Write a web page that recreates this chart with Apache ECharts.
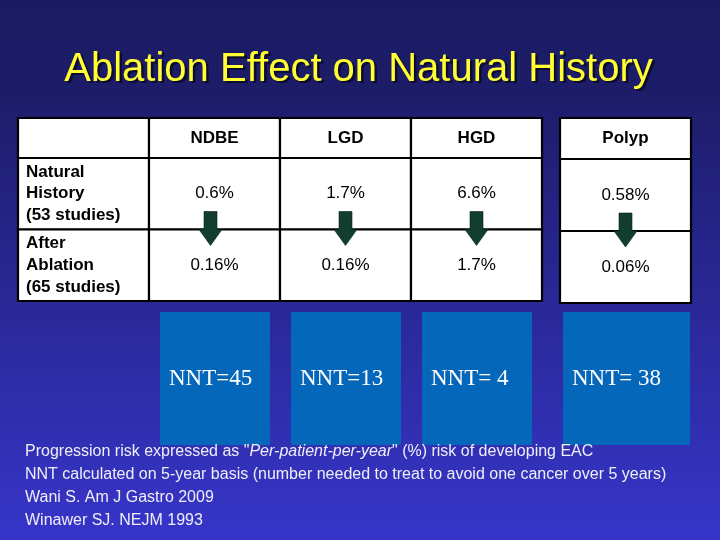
<!DOCTYPE html>
<html>
<head>
<meta charset="utf-8">
<title>Ablation Effect on Natural History</title>
<script src="https://cdn.jsdelivr.net/npm/echarts@6/dist/echarts.min.js"></script>
<style>
  html, body { margin: 0; padding: 0; }
  #main { width: 720px; height: 540px; }
</style>
</head>
<body>
<div id="main"></div>
<script>
// table content
const columns = ['', 'NDBE', 'LGD', 'HGD'];
const rowNames = ['Natural History', 'After Ablation'];
const rowLabels = ['Natural\nHistory\n(53 studies)', 'After\nAblation\n(65 studies)'];
const naturalHistory = ['0.6%', '1.7%', '6.6%'];
const afterAblation = ['0.16%', '0.16%', '1.7%'];
const polypColumn = ['Polyp'];
const polypRisk = ['0.58%', '0.06%'];
const nntMain = ['NNT=45', 'NNT=13', 'NNT= 4'];
const nntPolyp = ['NNT= 38'];
const titleText = 'Ablation Effect on Natural History';
const footnotes = [
  'Progression risk expressed as "{i|Per-patient-per-year}" (%) risk of developing EAC',
  'NNT calculated on 5-year basis (number needed to treat to avoid one cancer over 5 years)',
  'Wani S. Am J Gastro 2009',
  'Winawer SJ. NEJM 1993'
];

const SANS = '"Liberation Sans", Arial, sans-serif';
const SERIF = '"Liberation Serif", "Times New Roman", serif';

const myChart = echarts.init(document.getElementById('main'));

// white table cell with black border, text from getText(col, row)
function cellRenderer(getText) {
  return function (params, api) {
    const col = api.value(0);
    const row = api.value(1);
    const c = api.coord([col, row]);
    const s = api.size([1, 1]);
    const left = c[0] - s[0] / 2;
    const isLabel = params.seriesName === 'mainBody' && col === 0;
    const bold = isLabel || params.seriesName.indexOf('Head') >= 0;
    return {
      type: 'group',
      children: [
        {
          type: 'rect',
          shape: { x: left, y: c[1] - s[1] / 2, width: s[0], height: s[1] },
          style: { fill: '#ffffff', stroke: '#000000', lineWidth: 2.2 }
        },
        {
          type: 'text',
          x: isLabel ? left + 8 : c[0],
          y: c[1],
          style: {
            text: getText(col, row, params.seriesName),
            fill: '#000000',
            font: (bold ? 'bold ' : '') + '17px ' + SANS,
            lineHeight: 21.7,
            align: isLabel ? 'left' : 'center',
            verticalAlign: 'middle'
          }
        }
      ]
    };
  };
}

function headText(col, row, name) {
  return name === 'mainHead' ? columns[col] : polypColumn[col];
}

function bodyText(col, row, name) {
  if (name === 'polypBody') return polypRisk[row];
  if (col === 0) return rowLabels[row];
  return (row === 0 ? naturalHistory : afterAblation)[col - 1];
}

// down arrow sitting on the line between the two body rows
function arrowRenderer(params, api) {
  const col = api.value(0);
  const a = api.coord([col, 0]);
  const b = api.coord([col, 1]);
  const x = a[0] - (params.seriesName === 'mainArrows' && col === 1 ? 4 : 0);
  const y = (a[1] + b[1]) / 2 - 1;
  return {
    type: 'polygon',
    shape: {
      points: [
        [x - 6.5, y - 17], [x + 6.5, y - 17], [x + 6.5, y + 1],
        [x + 11.5, y + 1], [x, y + 17], [x - 11.5, y + 1], [x - 6.5, y + 1]
      ]
    },
    style: { fill: '#123e2f', stroke: '#08241a', lineWidth: 0.6 }
  };
}

// blue NNT box under a column
function nntRenderer(labels, insetL, insetR) {
  return function (params, api) {
    const col = api.value(0);
    const c = api.coord([col, 0]);
    const s = api.size([1, 1]);
    const left = c[0] - s[0] / 2 + insetL;
    return {
      type: 'group',
      children: [
        {
          type: 'rect',
          shape: { x: left, y: c[1] - s[1] / 2, width: s[0] - insetL - insetR, height: s[1] },
          style: { fill: '#0567ba' }
        },
        {
          type: 'text',
          x: left + 9,
          y: c[1],
          style: {
            text: labels[params.dataIndex],
            fill: '#ffffff',
            font: '23px ' + SERIF,
            align: 'left',
            verticalAlign: 'middle'
          }
        }
      ]
    };
  };
}

const mainBodyData = [];
rowNames.forEach(function (r, ri) {
  columns.forEach(function (c, ci) { mainBodyData.push([ci, ri]); });
});

const grids = [
  { left: 18, top: 118, width: 524, height: 40 },   // main header
  { left: 18, top: 158, width: 524, height: 143 },  // main body
  { left: 560, top: 118, width: 131, height: 41 },  // polyp header
  { left: 560, top: 159, width: 131, height: 144 }, // polyp body
  { left: 18, top: 312, width: 524, height: 133 },  // main NNT
  { left: 560, top: 312, width: 131, height: 133 }  // polyp NNT
];

const hidden = { show: false };
function xCat(data, gi) { return Object.assign({ type: 'category', data: data, gridIndex: gi }, hidden); }
function yCat(data, gi) { return Object.assign({ type: 'category', data: data, gridIndex: gi, inverse: true }, hidden); }

const footnoteGraphics = footnotes.map(function (t, i) {
  return {
    type: 'text',
    x: 25,
    y: 452 + i * 22.7,
    z: 100,
    style: {
      text: t,
      fill: '#eeeef8',
      font: '16px ' + SANS,
      verticalAlign: 'middle',
      rich: { i: { fontStyle: 'italic', fontSize: 16, fontFamily: SANS, fill: '#eeeef8' } }
    }
  };
});

const option = {
  backgroundColor: {
    type: 'linear', x: 0, y: 0, x2: 0, y2: 1,
    colorStops: [
      { offset: 0, color: '#1b1a62' },
      { offset: 0.17, color: '#1d1c69' },
      { offset: 1, color: '#3735c9' }
    ]
  },
  animation: false,
  grid: grids,
  xAxis: [
    xCat(columns, 0), xCat(columns, 1), xCat(polypColumn, 2),
    xCat(polypColumn, 3), xCat(columns, 4), xCat(polypColumn, 5)
  ],
  yAxis: [
    yCat(['head'], 0), yCat(rowNames, 1), yCat(['head'], 2),
    yCat(rowNames, 3), yCat(['NNT'], 4), yCat(['NNT'], 5)
  ],
  graphic: [
    {
      type: 'text', x: 361, y: 72,
      style: { text: titleText, fill: '#0c0c2e', font: '40px ' + SANS, align: 'center', verticalAlign: 'middle' }
    },
    {
      type: 'text', x: 358.5, y: 69.5,
      style: { text: titleText, fill: '#ffff33', font: '40px ' + SANS, align: 'center', verticalAlign: 'middle' }
    }
  ].concat(footnoteGraphics),
  series: [
    {
      name: 'mainHead', type: 'custom', xAxisIndex: 0, yAxisIndex: 0,
      renderItem: cellRenderer(headText),
      data: columns.map(function (c, i) { return [i, 0]; })
    },
    {
      name: 'mainBody', type: 'custom', xAxisIndex: 1, yAxisIndex: 1,
      renderItem: cellRenderer(bodyText),
      data: mainBodyData
    },
    {
      name: 'mainArrows', type: 'custom', xAxisIndex: 1, yAxisIndex: 1, z: 3,
      renderItem: arrowRenderer,
      data: naturalHistory.map(function (v, i) { return [i + 1, 0]; })
    },
    {
      name: 'polypHead', type: 'custom', xAxisIndex: 2, yAxisIndex: 2,
      renderItem: cellRenderer(headText),
      data: [[0, 0]]
    },
    {
      name: 'polypBody', type: 'custom', xAxisIndex: 3, yAxisIndex: 3,
      renderItem: cellRenderer(bodyText),
      data: polypRisk.map(function (v, i) { return [0, i]; })
    },
    {
      name: 'polypArrow', type: 'custom', xAxisIndex: 3, yAxisIndex: 3, z: 3,
      renderItem: arrowRenderer,
      data: [[0, 0]]
    },
    {
      name: 'mainNNT', type: 'custom', xAxisIndex: 4, yAxisIndex: 4,
      renderItem: nntRenderer(nntMain, 11, 10),
      data: nntMain.map(function (v, i) { return [i + 1, 0]; })
    },
    {
      name: 'polypNNT', type: 'custom', xAxisIndex: 5, yAxisIndex: 5,
      renderItem: nntRenderer(nntPolyp, 3, 1),
      data: [[0, 0]]
    }
  ]
};

myChart.setOption(option);
</script>
</body>
</html>
